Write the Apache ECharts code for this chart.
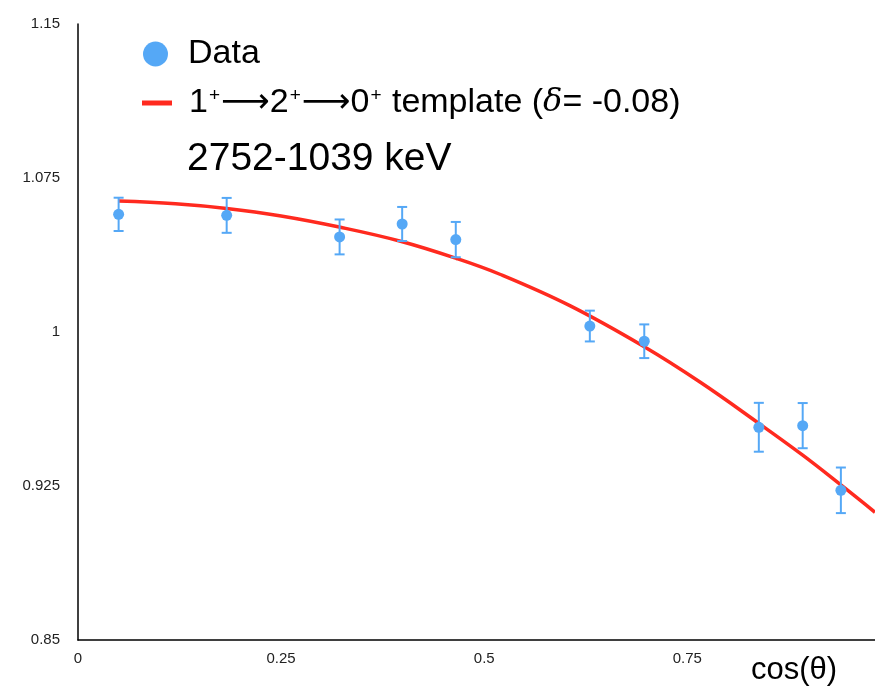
<!DOCTYPE html>
<html>
<head>
<meta charset="utf-8">
<script src="https://cdn.jsdelivr.net/npm/echarts@6/dist/echarts.min.js"></script>
<style>
  html, body { margin: 0; padding: 0; background: #ffffff; }
  #chart { width: 875px; height: 691px; }
</style>
</head>
<body>
<div id="chart"></div>
<script>
// Measured angular correlation, 2752-1039 keV cascade
const cosTheta = [0.050, 0.183, 0.322, 0.399, 0.465, 0.630, 0.697, 0.838, 0.892, 0.939];
const counts   = [1.0573, 1.0568, 1.0463, 1.0526, 1.0450, 1.0029, 0.9955, 0.9536, 0.9544, 0.9229];
const errors   = [0.0081, 0.0085, 0.0085, 0.0083, 0.0086, 0.0075, 0.0082, 0.0119, 0.0110, 0.0111];

// 1+ -> 2+ -> 0+ template curve (delta = -0.08), sampled points
const templateX = [0.050, 0.120, 0.183, 0.250, 0.323, 0.397, 0.466, 0.520, 0.606, 0.697, 0.766, 0.838, 0.892, 0.939, 0.981];
const templateY = [1.0638, 1.0625, 1.0602, 1.0565, 1.0510, 1.0442, 1.0358, 1.0280, 1.0127, 0.9928, 0.9755, 0.9555, 0.9400, 0.9255, 0.9122];

const yTicks = [0.85, 0.925, 1, 1.075, 1.15];
const xTicks = [0, 0.25, 0.5, 0.75];

const dataName = 'Data';
const templateName = 'template';

const blue = '#55a8f6';
const red = '#ff2a1f';
const sans = 'Liberation Sans, Arial, sans-serif';

const chart = echarts.init(document.getElementById('chart'), null, { renderer: 'canvas' });

const points = cosTheta.map((x, i) => [x, counts[i]]);
const bars = cosTheta.map((x, i) => [x, counts[i] - errors[i], counts[i] + errors[i]]);
const curve = templateX.map((x, i) => [x, templateY[i]]);

const option = {
  animation: false,
  backgroundColor: '#ffffff',
  textStyle: { fontFamily: sans },
  grid: { left: 78, right: 0, top: 24, bottom: 51, containLabel: false },
  legend: [
    {
      data: [dataName],
      left: 143, top: 37, padding: 0,
      icon: 'circle',
      itemWidth: 25, itemHeight: 25,
      textStyle: { fontSize: 34, color: '#000', padding: [0, 0, 0, 15] }
    },
    {
      data: [templateName],
      left: 142, top: 86, padding: 0,
      icon: 'rect',
      itemWidth: 30, itemHeight: 5,
      formatter: () => '1{s|+}{a|\u27F6}2{s|+}{a|\u27F6}0{s|+} template ({i|\u03B4}= -0.08)',
      textStyle: {
        fontSize: 34, color: '#000', padding: [0, 0, 0, 12],
        rich: {
          s: { fontSize: 19, verticalAlign: 'top', padding: [0, 1, 12, 1], color: '#000' },
          a: { fontSize: 34, fontFamily: 'DejaVu Sans', color: '#000' },
          i: { fontSize: 32, fontStyle: 'italic', fontFamily: 'DejaVu Serif, serif', color: '#000' }
        }
      }
    }
  ],
  graphic: [
    {
      type: 'text', left: 187, top: 140,
      style: { text: '2752-1039 keV', fontSize: 39, fill: '#000', fontFamily: sans }
    },
    {
      type: 'text', left: 751, top: 655,
      style: { text: 'cos(\u03B8)', fontSize: 31, fill: '#000', fontFamily: sans }
    }
  ],
  xAxis: {
    type: 'value',
    min: 0, max: 0.981, interval: 0.25,
    axisLine: { show: true, lineStyle: { color: '#000', width: 1.5 } },
    axisTick: { show: false },
    splitLine: { show: false },
    axisLabel: {
      showMaxLabel: false, margin: 11, fontSize: 15, color: '#222',
      formatter: v => (xTicks.includes(+v.toFixed(2)) ? String(+v.toFixed(2)) : '')
    }
  },
  yAxis: {
    type: 'value',
    min: 0.85, max: 1.15, interval: 0.075,
    axisLine: { show: true, lineStyle: { color: '#000', width: 1.5 } },
    axisTick: { show: false },
    splitLine: { show: false },
    axisLabel: {
      margin: 18, fontSize: 15, color: '#222',
      formatter: v => (yTicks.includes(+v.toFixed(3)) ? String(+v.toFixed(3)) : '')
    }
  },
  series: [
    {
      name: templateName,
      type: 'line',
      data: curve,
      smooth: 0.4,
      showSymbol: false,
      lineStyle: { color: red, width: 3.5 },
      itemStyle: { color: red },
      z: 2
    },
    {
      name: 'errors',
      type: 'custom',
      data: bars,
      z: 3,
      renderItem: (params, api) => {
        const x = api.value(0);
        const lo = api.coord([x, api.value(1)]);
        const hi = api.coord([x, api.value(2)]);
        const cap = 5;
        const style = { stroke: blue, lineWidth: 2 };
        return {
          type: 'group',
          children: [
            { type: 'line', shape: { x1: lo[0], y1: lo[1], x2: hi[0], y2: hi[1] }, style },
            { type: 'line', shape: { x1: lo[0] - cap, y1: lo[1], x2: lo[0] + cap, y2: lo[1] }, style },
            { type: 'line', shape: { x1: hi[0] - cap, y1: hi[1], x2: hi[0] + cap, y2: hi[1] }, style }
          ]
        };
      }
    },
    {
      name: dataName,
      type: 'scatter',
      data: points,
      symbol: 'circle',
      symbolSize: 11,
      itemStyle: { color: blue, opacity: 1 },
      z: 4
    }
  ]
};

chart.setOption(option);
</script>
</body>
</html>
